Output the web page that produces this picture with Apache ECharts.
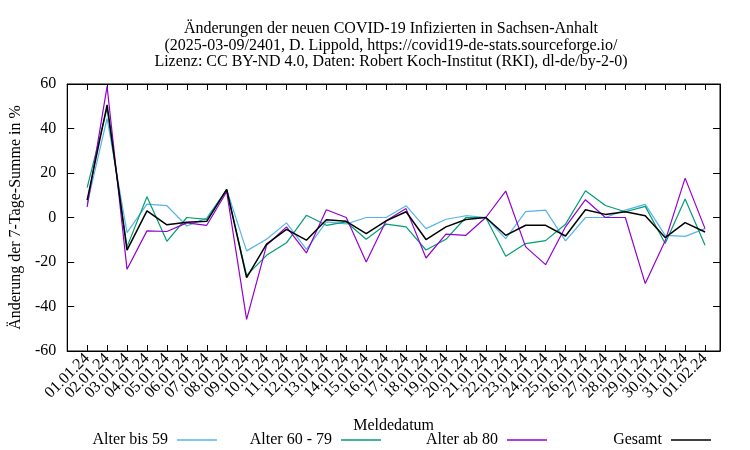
<!DOCTYPE html>
<html>
<head>
<meta charset="utf-8">
<script src="https://cdn.jsdelivr.net/npm/echarts@6/dist/echarts.min.js"></script>
<style>html,body{margin:0;padding:0;background:#fff}#c{width:750px;height:450px}</style>
</head>
<body>
<div id="c"></div>
<script>
const dates = ['01.01.24','02.01.24','03.01.24','04.01.24','05.01.24','06.01.24','07.01.24','08.01.24','09.01.24','10.01.24','11.01.24','12.01.24','13.01.24','14.01.24','15.01.24','16.01.24','17.01.24','18.01.24','19.01.24','20.01.24','21.01.24','22.01.24','23.01.24','24.01.24','25.01.24','26.01.24','27.01.24','28.01.24','29.01.24','30.01.24','31.01.24','01.02.24'];
const bis59 = [6, 44.5, -6.8, 6, 5.3, -3.8, -0.2, 12.5, -15, -9.8, -2.4, -14.3, -2, -2.9, 0, 0, 5.3, -5, -0.8, 0.8, 0, -9.5, 2.6, 3.3, -10.5, 0, 0, 3.3, 5.9, -8, -8.5, -5];
const a6079 = [13.4, 49, -13.2, 9.3, -10.7, 0, -0.8, 12.6, -26, -17, -11.4, 1, -3.5, -2, -9.8, -3, -4.2, -14.6, -9.8, 0, 0, -17.4, -11.7, -10.4, -3, 12, 5.4, 2.6, 5, -11.7, 8.3, -12.5];
const ab80 = [4.8, 58.9, -23.3, -6, -6.3, -2.4, -3.5, 11.6, -45.8, -12.5, -4.2, -15.9, 3.5, 0, -20, -1.5, 4, -18.2, -7.5, -8, 0, 11.9, -13.2, -21.2, -4.2, 8, 0, 0, -29.7, -10.5, 17.7, -5];
const gesamt = [7.8, 50.6, -14.7, 3, -3.3, -2.1, -1.7, 12.6, -27, -12, -5.3, -10.2, -1, -1.7, -7.2, -1.5, 2.6, -9.9, -4.2, -0.9, 0, -8, -3.5, -3.5, -8.3, 3.5, 1.4, 2.6, 0.8, -9, -2.3, -6.5];
const yTicks = [-60, -40, -20, 0, 20, 40, 60];
const names = ['Alter bis 59', 'Alter 60 - 79', 'Alter ab 80', 'Gesamt'];
const colors = ['#56b4e9', '#009e73', '#9400d3', '#000000'];
const titleLines = ['Änderungen der neuen COVID-19 Infizierten in Sachsen-Anhalt', '(2025-03-09/2401, D. Lippold, https://covid19-de-stats.sourceforge.io/', 'Lizenz: CC BY-ND 4.0, Daten: Robert Koch-Institut (RKI), dl-de/by-2-0)'];

const FONT = '"Liberation Serif", "DejaVu Serif", serif';
const chart = echarts.init(document.getElementById('c'), null, {renderer: 'canvas'});
const toPts = arr => arr.map((v, i) => [i, v]);
const allData = [bis59, a6079, ab80, gesamt];
const legendRight = [528, 364, 198, 34];

const option = {
  backgroundColor: '#fff',
  animation: false,
  graphic: [{
    type: 'text', x: 391, y: 21,
    style: {text: titleLines.join('\n'), font: '16px ' + FONT, textAlign: 'center', fill: '#000', lineHeight: 16.5}
  }],
  grid: {left: 63, right: 30, top: 84, bottom: 99, show: true, borderColor: '#000', borderWidth: 1},
  legend: names.map((n, i) => ({
    data: [n], right: legendRight[i], top: 427, align: 'right', icon: 'rect',
    itemWidth: 40, itemHeight: 1.5, itemGap: 6,
    textStyle: {fontFamily: FONT, fontSize: 16, color: '#000', padding: [0, 4, 0, 0]}
  })),
  xAxis: [{
    type: 'value', min: -1, max: 31.75, interval: 1,
    name: 'Meldedatum', nameLocation: 'middle', nameGap: 67,
    nameTextStyle: {fontFamily: FONT, fontSize: 16, color: '#000'},
    axisLine: {show: true, onZero: false, lineStyle: {color: '#000'}},
    axisTick: {inside: true, length: 6, lineStyle: {color: '#000'}},
    splitLine: {show: false},
    axisLabel: {rotate: 45, margin: 5, fontFamily: FONT, fontSize: 16, color: '#000',
      showMinLabel: false, showMaxLabel: false,
      formatter: v => (Number.isInteger(v) && v >= 0 && v < dates.length) ? dates[v] : ''}
  }, {
    type: 'value', position: 'top', min: -1, max: 31.75, interval: 1,
    axisLine: {show: true, onZero: false, lineStyle: {color: '#000'}},
    axisTick: {inside: true, length: 6, lineStyle: {color: '#000'}},
    axisLabel: {show: false}, splitLine: {show: false}
  }],
  yAxis: [{
    type: 'value', min: yTicks[0], max: yTicks[yTicks.length - 1], interval: 20,
    name: 'Änderung der 7-Tage-Summe in %', nameLocation: 'middle', nameGap: 34,
    nameTextStyle: {fontFamily: FONT, fontSize: 16, color: '#000'},
    axisLine: {show: true, onZero: false, lineStyle: {color: '#000'}},
    axisTick: {inside: true, length: 7, lineStyle: {color: '#000'}},
    splitLine: {show: false},
    axisLabel: {margin: 11, fontFamily: FONT, fontSize: 16, color: '#000'}
  }, {
    type: 'value', position: 'right', min: yTicks[0], max: yTicks[yTicks.length - 1], interval: 20,
    axisLine: {show: true, onZero: false, lineStyle: {color: '#000'}},
    axisTick: {inside: true, length: 7, lineStyle: {color: '#000'}},
    axisLabel: {show: false}, splitLine: {show: false}
  }],
  series: names.map((n, i) => ({
    name: n, type: 'line', data: toPts(allData[i]), symbol: 'none',
    lineStyle: {color: colors[i], width: i === 3 ? 1.5 : 1.2},
    itemStyle: {color: colors[i]}, z: 2 + i
  }))
};
chart.setOption(option);
</script>
</body>
</html>
